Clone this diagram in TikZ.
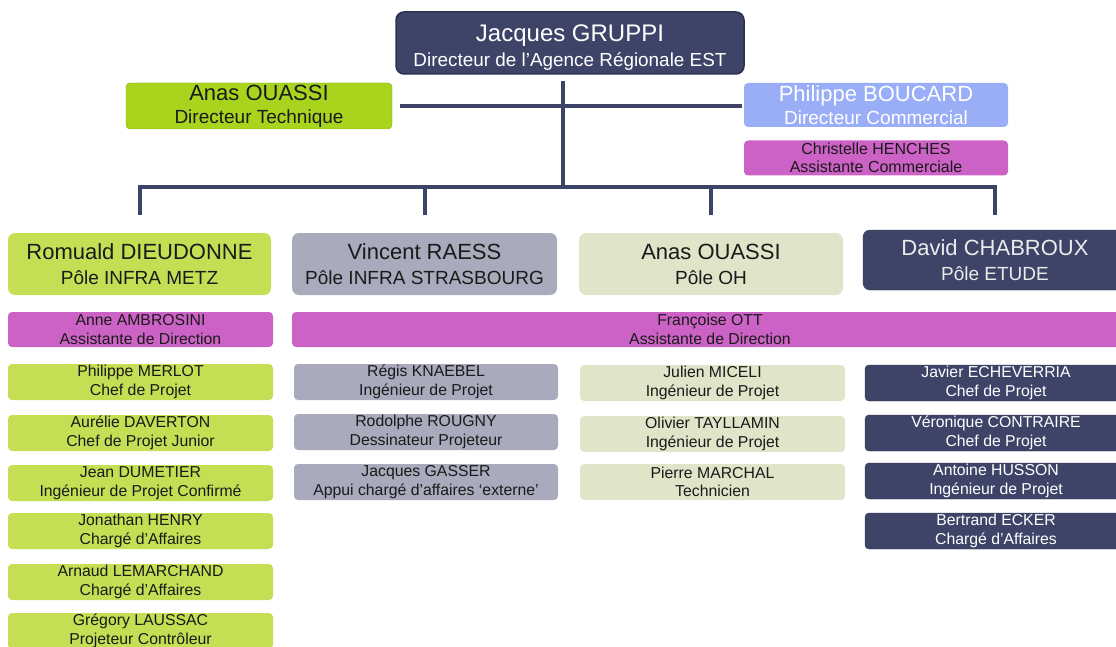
\documentclass[tikz,border=0pt]{standalone}
\usepackage{fontspec}
\setmainfont{Liberation Sans}
\definecolor{navy}{HTML}{3E4468}
\definecolor{navyd}{HTML}{2C3150}
\definecolor{brightgreen}{HTML}{A8D41E}
\definecolor{lightblue}{HTML}{9AAEF7}
\definecolor{magenta2}{HTML}{CC62C5}
\definecolor{ygreen}{HTML}{C5DF55}
\definecolor{greyb}{HTML}{A9ABBD}
\definecolor{paleg}{HTML}{DFE5C8}
\definecolor{txt}{HTML}{1A1A1A}
\tikzset{
  box/.style={rounded corners=4pt, inner sep=0pt, align=center, text=txt},
  listbox/.style={box, minimum height=36pt, font=\fontsize{15.8}{18.5}\selectfont},
  headbox/.style={box, rounded corners=7pt, minimum width=264pt, minimum height=62pt, font=\fontsize{19}{25}\selectfont},
  lg/.style={listbox, fill=ygreen, minimum width=265pt},
  lgrey/.style={listbox, fill=greyb, minimum width=264pt},
  lpale/.style={listbox, fill=paleg, minimum width=265pt},
  lnavy/.style={listbox, fill=navy, draw=navyd, minimum width=262pt, text=white},
  lmag/.style={listbox, fill=magenta2, minimum height=35pt},
  conn/.style={draw=navy, line width=4pt},
}
\newcommand{\bigline}[1]{{\fontsize{22}{25}\selectfont #1}}
\begin{document}
\begin{tikzpicture}[x=1pt,y=-1pt]
\useasboundingbox (0,0) rectangle (1116,647);
% top level
\node[box, rounded corners=8pt, fill=navy, draw=navyd, line width=1.5pt, minimum width=348pt, minimum height=62pt, text=white, font=\fontsize{18.9}{25}\selectfont] (gruppi) at (570,43) {\rule{0pt}{25pt}{\fontsize{24}{25}\selectfont Jacques GRUPPI}\\Directeur de l’Agence Régionale EST};
\node[box, fill=brightgreen, draw=brightgreen!80!black, minimum width=266pt, minimum height=46pt, font=\fontsize{19}{23}\selectfont] (dt) at (259,106) {\bigline{Anas OUASSI}\\Directeur Technique};
\node[box, fill=lightblue, minimum width=264pt, minimum height=44pt, text=white, font=\fontsize{19}{23}\selectfont] (boucard) at (876,105) {\bigline{Philippe BOUCARD}\\Directeur Commercial};
\node[lmag, minimum width=264pt, font=\fontsize{16}{18.5}\selectfont] (henches) at (876,158) {Christelle HENCHES\\Assistante Commerciale};
% poles
\node[headbox, fill=ygreen, minimum width=263pt] (romuald) at (139.5,264) {\bigline{Romuald DIEUDONNE}\\Pôle INFRA METZ};
\node[headbox, fill=greyb, minimum width=265pt] (vincent) at (424.5,264) {\bigline{Vincent RAESS}\\Pôle INFRA STRASBOURG};
\node[headbox, fill=paleg] (oh) at (711,264) {\bigline{Anas OUASSI}\\Pôle OH};
\node[headbox, fill=navy, draw=navyd, minimum height=60pt, text=white!92!black] (david) at (995,260) {\bigline{David CHABROUX}\\Pôle ETUDE};
% connectors
\coordinate (j) at (563,187);
\draw[conn] ([yshift=-6pt]gruppi.south -| j) -- (j);
\draw[conn] ([xshift=8pt]dt.east) -- ([xshift=-2pt]dt.east -| boucard.west);
\draw[conn] ([yshift=18pt]romuald.north) |- (j);
\draw[conn] ([yshift=18pt]vincent.north) |- (j);
\draw[conn] ([yshift=18pt]oh.north) |- (j);
\draw[conn] ([yshift=15pt]david.north) |- (j);
% assistants
\node[lmag, minimum width=265pt] (anne) at (140.5,329.5) {Anne AMBROSINI\\Assistante de Direction};
\node[lmag, minimum width=836pt] (ott) at (710,329.5) {Françoise OTT\\Assistante de Direction};
% left column
\node[lg] (merlot) at (140.5,382) {Philippe MERLOT\\Chef de Projet};
\node[lg] (daverton) at (140.5,433) {Aurélie DAVERTON\\Chef de Projet Junior};
\node[lg] (dumetier) at (140.5,483) {Jean DUMETIER\\Ingénieur de Projet Confirmé};
\node[lg] (henry) at (140.5,531) {Jonathan HENRY\\Chargé d’Affaires};
\node[lg] (lemarchand) at (140.5,582) {Arnaud LEMARCHAND\\Chargé d’Affaires};
\node[lg] (laussac) at (140.5,631) {Grégory LAUSSAC\\Projeteur Contrôleur};
% middle column
\node[lgrey] (knaebel) at (426,382) {Régis KNAEBEL\\Ingénieur de Projet};
\node[lgrey] (rougny) at (426,432) {Rodolphe ROUGNY\\Dessinateur Projeteur};
\node[lgrey] (gasser) at (426,482) {Jacques GASSER\\Appui chargé d’affaires ‘externe’};
% OH column
\node[lpale] (miceli) at (712.5,383) {Julien MICELI\\Ingénieur de Projet};
\node[lpale] (tayllamin) at (712.5,434) {Olivier TAYLLAMIN\\Ingénieur de Projet};
\node[lpale] (marchal) at (712.5,482) {Pierre MARCHAL\\Technicien};
% ETUDE column
\node[lnavy] (echeverria) at (996,383) {Javier ECHEVERRIA\\Chef de Projet};
\node[lnavy] (contraire) at (996,433) {Véronique CONTRAIRE\\Chef de Projet};
\node[lnavy] (husson) at (996,481) {Antoine HUSSON\\Ingénieur de Projet};
\node[lnavy] (ecker) at (996,531) {Bertrand ECKER\\Chargé d’Affaires};
\end{tikzpicture}
\end{document}
